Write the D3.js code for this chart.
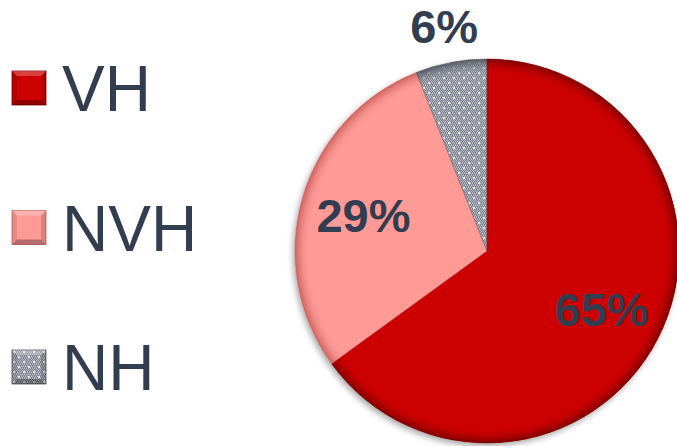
<!DOCTYPE html>
<html>
<head>
<meta charset="utf-8">
<script src="https://cdn.jsdelivr.net/npm/d3@7"></script>
<style>
  body { margin: 0; background: #fff; }
  svg { display: block; }
</style>
</head>
<body>
<svg id="chart"></svg>
<script>
// data
var categories = ["VH", "NVH", "NH"];
var shares = [65, 29, 6];
var pctLabels = ["65%", "29%", "6%"];

var width = 677, height = 446;
var cx = 487, cy = 251, radius = 192;
var textColor = "#323e50";
var baseColors = ["#cc0000", "#ff9b97", "#9498a3"];
var rimColors = ["#7a0000", "#c9605c", "#50545e"];

var svg = d3.select("#chart")
  .attr("width", width)
  .attr("height", height)
  .attr("viewBox", `0 0 ${width} ${height}`);

var defs = svg.append("defs");

// dotted gray pattern for NH
var pat = defs.append("pattern")
  .attr("id", "nhPat")
  .attr("patternUnits", "userSpaceOnUse")
  .attr("width", 10).attr("height", 10);
pat.append("rect").attr("width", 10).attr("height", 10).attr("fill", "#7c808c");
for (var i = 0; i < 10; i += 2) {
  for (var j = 0; j < 10; j += 2) {
    pat.append("rect").attr("x", i + ((j / 2) % 2)).attr("y", j)
      .attr("width", 1).attr("height", 1).attr("fill", "#bfc2ca");
    pat.append("rect").attr("x", i + 1 - ((j / 2) % 2)).attr("y", j + 1)
      .attr("width", 1).attr("height", 1).attr("fill", "#aeb1ba");
  }
}
pat.append("circle").attr("cx", 2).attr("cy", 2).attr("r", 1).attr("fill", "#fff");
pat.append("circle").attr("cx", 7).attr("cy", 7).attr("r", 1).attr("fill", "#fff");

// rim shading per slice (bevel look), centred on the slice origin
baseColors.forEach(function(c, k) {
  var gr = defs.append("radialGradient")
    .attr("id", "rim" + k)
    .attr("gradientUnits", "userSpaceOnUse")
    .attr("cx", 0).attr("cy", 0).attr("r", radius);
  gr.append("stop").attr("offset", "0%").attr("stop-color", c).attr("stop-opacity", 0);
  gr.append("stop").attr("offset", "92%").attr("stop-color", c).attr("stop-opacity", 0);
  gr.append("stop").attr("offset", "100%").attr("stop-color", rimColors[k]).attr("stop-opacity", 0.95);
});

var shadow = defs.append("filter").attr("id", "shadow")
  .attr("x", "-10%").attr("y", "-10%").attr("width", "120%").attr("height", "120%");
shadow.append("feDropShadow")
  .attr("dx", -2).attr("dy", 3).attr("stdDeviation", 3)
  .attr("flood-color", "#000").attr("flood-opacity", 0.35);

var pie = d3.pie().sort(null).value(function(d) { return d; });
var arcs = pie(shares);
var arc = d3.arc().innerRadius(0).outerRadius(radius);

var g = svg.append("g").attr("transform", `translate(${cx},${cy})`);

var slices = g.append("g").attr("filter", "url(#shadow)");
slices.selectAll("path.base")
  .data(arcs)
  .enter()
  .append("path")
    .attr("class", "base")
    .attr("d", arc)
    .attr("fill", function(d, i) { return i === 2 ? "url(#nhPat)" : baseColors[i]; });

g.selectAll("path.rim")
  .data(arcs)
  .enter()
  .append("path")
    .attr("class", "rim")
    .attr("d", arc)
    .attr("fill", function(d, i) { return "url(#rim" + i + ")"; });

// soft edge along the slice boundaries
g.selectAll("path.edge")
  .data(arcs)
  .enter()
  .append("path")
    .attr("class", "edge")
    .attr("d", arc)
    .attr("fill", "none")
    .attr("stroke", function(d, i) { return rimColors[i]; })
    .attr("stroke-opacity", 0.45)
    .attr("stroke-width", 1);

// percentage labels
var inner = d3.arc().innerRadius(radius * 0.67).outerRadius(radius * 0.67);
var outer = d3.arc().innerRadius(radius * 1.19).outerRadius(radius * 1.19);
g.selectAll("text.pct")
  .data(arcs)
  .enter()
  .append("text")
    .attr("class", "pct")
    .attr("transform", function(d, i) {
      var c = (i === 2 ? outer : inner).centroid(d);
      return `translate(${c[0]},${c[1]})`;
    })
    .attr("text-anchor", "middle")
    .attr("dy", "0.36em")
    .style("font-family", "Liberation Sans, Arial, sans-serif")
    .style("font-weight", "bold")
    .style("font-size", "47px")
    .style("fill", textColor)
    .text(function(d, i) { return pctLabels[i]; });

// legend
var legendY = d3.scalePoint().domain(categories).range([88, 367]);
var sq = 34;
var leg = svg.append("g").selectAll("g")
  .data(categories)
  .enter()
  .append("g")
    .attr("transform", function(d) { return `translate(12,${legendY(d) - sq / 2})`; });

leg.append("rect")
  .attr("width", sq).attr("height", sq)
  .attr("fill", function(d, i) { return i === 2 ? "url(#nhPat)" : baseColors[i]; })
  .attr("stroke", function(d, i) { return rimColors[i]; })
  .attr("stroke-width", 0.8);
// bevel: lighter top, darker bottom
leg.append("path")
  .attr("d", `M0,0 L${sq},0 L${sq - 5},5 L5,5 Z`)
  .attr("fill", "#fff").attr("fill-opacity", 0.25);
leg.append("path")
  .attr("d", `M0,${sq} L${sq},${sq} L${sq - 5},${sq - 5} L5,${sq - 5} Z`)
  .attr("fill", "#000").attr("fill-opacity", 0.3);
leg.append("path")
  .attr("d", `M0,0 L5,5 L5,${sq - 5} L0,${sq} Z`)
  .attr("fill", "#000").attr("fill-opacity", 0.1);
leg.append("path")
  .attr("d", `M${sq},0 L${sq - 5},5 L${sq - 5},${sq - 5} L${sq},${sq} Z`)
  .attr("fill", "#000").attr("fill-opacity", 0.15);

leg.append("text")
  .attr("x", 50)
  .attr("y", sq / 2)
  .attr("dy", "0.36em")
  .style("font-family", "Liberation Sans, Arial, sans-serif")
  .style("font-size", "64px")
  .style("fill", textColor)
  .text(function(d) { return d; });
</script>
</body>
</html>
